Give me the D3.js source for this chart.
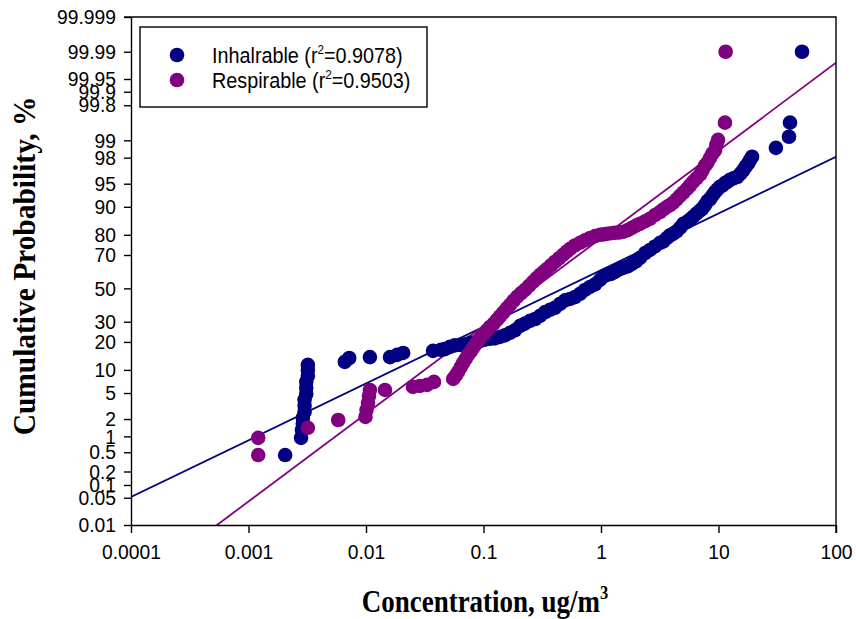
<!DOCTYPE html>
<html>
<head>
<meta charset="utf-8">
<script src="https://cdn.jsdelivr.net/npm/d3@7"></script>
<style>
  html, body { margin: 0; padding: 0; background: #fff; }
  svg { display: block; }
</style>
</head>
<body>
<svg id="chart" width="856" height="619"></svg>
<script>
// ---- data -------------------------------------------------------------
const seriesNames = ["Inhalrable", "Respirable"];
const seriesColors = ["#000080", "#800080"];
const r2Values = ["0.9078", "0.9503"];

// Inhalable: concentration (ug/m3) and cumulative probability (%)
const inhalConc = [
  0.00205, 0.0028, 0.00285, 0.0029, 0.0029, 0.0030, 0.0030, 0.0030, 0.0031, 0.0031,
  0.0031, 0.0032, 0.0032, 0.0032, 0.0066, 0.0072, 0.0108, 0.016, 0.0184, 0.0207,
  0.0372, 0.0435, 0.047, 0.0519, 0.057, 0.0631, 0.070, 0.0768, 0.085, 0.0933,
  0.103, 0.1135, 0.125, 0.138, 0.152, 0.168, 0.185, 0.205, 0.225, 0.249,
  0.275, 0.303, 0.335, 0.368, 0.405, 0.448, 0.495, 0.545, 0.60, 0.663,
  0.73, 0.806, 0.89, 0.98, 1.05, 1.125, 1.22, 1.316, 1.43, 1.54,
  1.69, 1.835, 1.99, 2.147, 2.37, 2.61, 2.88, 3.18, 3.40, 3.65,
  3.87, 4.10, 4.40, 4.70, 5.03, 5.39, 5.72, 6.07, 6.5, 6.96,
  7.3, 7.67, 8.05, 8.47, 8.9, 9.34, 9.8, 10.3, 10.8, 11.35,
  11.9, 12.5, 13.4, 14.4, 15.3, 16.2, 17.0, 17.8, 18.5, 19.3,
  30.8, 39.8, 40.6, 51.4];
const inhalProb = [
  0.44, 0.94, 1.30, 1.66, 2.09, 2.61, 3.24, 4.0, 4.86, 5.89,
  7.1, 8.45, 10.0, 11.45, 12.4, 13.7, 14.0, 14.0, 14.8, 15.5,
  16.3, 16.7, 17.0, 17.9, 18.5, 18.7, 19.0, 19.6, 19.8, 20.4,
  21.0, 21.4, 21.6, 22.3, 23.0, 24.2, 25.5, 27.8, 29.0, 30.5,
  31.5, 33.3, 35.5, 36.8, 38.0, 40.4, 42.5, 43.4, 44.5, 46.6,
  49.0, 50.9, 52.5, 55.3, 57.5, 58.4, 59.0, 60.2, 61.8, 62.6,
  63.5, 65.0, 66.5, 68.4, 71.0, 72.7, 74.5, 76.3, 77.0, 78.6,
  79.8, 80.4, 81.5, 82.9, 84.5, 85.2, 86.0, 86.95, 88.0, 88.9,
  89.5, 90.5, 91.5, 92.0, 92.8, 93.5, 94.0, 94.5, 94.7, 95.1,
  95.3, 95.6, 95.8, 96.0, 96.4, 96.8, 97.2, 97.5, 97.8, 98.07,
  98.64, 99.14, 99.54, 99.99];

// Respirable
const respConc = [
  0.00121, 0.00121, 0.0032, 0.0058, 0.0099, 0.0101, 0.0104, 0.0106, 0.0108, 0.0145,
  0.0251, 0.0288, 0.0331, 0.0379, 0.0552, 0.058, 0.0607, 0.064, 0.0670, 0.0705,
  0.0738, 0.0775, 0.0814, 0.0855, 0.0898, 0.095, 0.101, 0.107, 0.1135, 0.122,
  0.130, 0.138, 0.1465, 0.157, 0.168, 0.18, 0.193, 0.209, 0.2255, 0.244,
  0.264, 0.283, 0.303, 0.325, 0.347, 0.376, 0.406, 0.44, 0.475, 0.51,
  0.545, 0.60, 0.663, 0.73, 0.806, 0.89, 0.98, 1.05, 1.125, 1.22,
  1.316, 1.43, 1.54, 1.69, 1.835, 1.99, 2.147, 2.37, 2.61, 2.88,
  3.18, 3.40, 3.65, 3.87, 4.10, 4.40, 4.70, 5.03, 5.39, 5.72,
  6.07, 6.5, 6.96, 7.3, 7.67, 8.05, 8.47, 8.9, 9.34, 9.6,
  9.91, 11.35, 11.5];
const respProb = [
  0.44, 0.94, 1.42, 1.93, 2.17, 2.81, 3.59, 4.55, 5.52, 5.52,
  6.07, 6.26, 6.46, 7.08, 7.74, 8.5, 9.46, 10.8, 12.1, 13.4,
  14.8, 16.0, 17.5, 19.0, 20.4, 22.0, 23.7, 25.5, 27.2, 29.0,
  31.0, 33.0, 35.0, 37.5, 39.8, 42.3, 44.7, 47.0, 49.1, 51.6,
  54.1, 56.3, 58.4, 60.2, 62.0, 64.2, 66.2, 68.2, 70.1, 71.8,
  73.3, 75.0, 76.3, 77.5, 78.6, 79.4, 80.0, 80.2, 80.4, 80.7,
  80.9, 81.0, 81.3, 82.0, 82.9, 83.8, 84.5, 85.4, 86.3, 87.5,
  88.5, 89.3, 90.0, 90.5, 91.05, 91.9, 92.7, 93.4, 94.1, 94.7,
  95.3, 95.8, 96.3, 96.8, 97.3, 97.6, 97.99, 98.3, 98.5, 98.8,
  99.02, 99.54, 99.99];

// Lognormal fits: probit(p) = intercept + slope * log10(concentration)
const fitIntercept = [0.286, 0.788];
const fitSlope = [0.891, 1.379];

// Axis ticks
const xTicks = [0.0001, 0.001, 0.01, 0.1, 1, 10, 100];
const xTickLabels = ["0.0001", "0.001", "0.01", "0.1", "1", "10", "100"];
const yTicks = [0.01, 0.05, 0.1, 0.2, 0.5, 1, 2, 5, 10, 20, 30, 50, 70, 80, 90, 95, 98, 99, 99.8, 99.9, 99.95, 99.99, 99.999];
const yTickLabels = ["0.01", "0.05", "0.1", "0.2", "0.5", "1", "2", "5", "10", "20", "30", "50", "70", "80", "90", "95", "98", "99", "99.8", "99.9", "99.95", "99.99", "99.999"];

// ---- normal quantile (probit) ------------------------------------------
function probit(p) {
  const a = [-3.969683028665376e+01, 2.209460984245205e+02, -2.759285104469687e+02, 1.383577518672690e+02, -3.066479806614716e+01, 2.506628277459239e+00];
  const b = [-5.447609879822406e+01, 1.615858368580409e+02, -1.556989798598866e+02, 6.680131188771972e+01, -1.328068155833981e+01];
  const c = [-7.784894002430293e-03, -3.223964580411365e-01, -2.400758277161838e+00, -2.549732539343734e+00, 4.374664141464968e+00, 2.938163982698783e+00];
  const d = [7.784695709041462e-03, 3.224671290700398e-01, 2.445134137142996e+00, 3.754408661907416e+00];
  const pl = 0.02425, ph = 1 - pl;
  let q, r;
  if (p < pl) {
    q = Math.sqrt(-2 * Math.log(p));
    return (((((c[0]*q+c[1])*q+c[2])*q+c[3])*q+c[4])*q+c[5]) / ((((d[0]*q+d[1])*q+d[2])*q+d[3])*q+1);
  } else if (p <= ph) {
    q = p - 0.5; r = q * q;
    return (((((a[0]*r+a[1])*r+a[2])*r+a[3])*r+a[4])*r+a[5])*q / (((((b[0]*r+b[1])*r+b[2])*r+b[3])*r+b[4])*r+1);
  } else {
    q = Math.sqrt(-2 * Math.log(1 - p));
    return -(((((c[0]*q+c[1])*q+c[2])*q+c[3])*q+c[4])*q+c[5]) / ((((d[0]*q+d[1])*q+d[2])*q+d[3])*q+1);
  }
}

// ---- layout -----------------------------------------------------------
const plot = { left: 131, right: 836, top: 17, bottom: 525 };
const svg = d3.select("#chart");

const x = d3.scaleLog().domain([0.0001, 100]).range([plot.left, plot.right]);
// linear scale in probit units; percentages are mapped through probit()
const z = d3.scaleLinear().domain([probit(0.0001), probit(0.99999)]).range([plot.bottom, plot.top]);
const y = p => z(probit(p / 100));

const sansFont = "'Liberation Sans', Arial, sans-serif";
const serifFont = "'Liberation Serif', 'Times New Roman', serif";
const tickSize = 21;
const squeeze = 0.92;
const markerR = 7.3;

// clip region for fitted lines
svg.append("clipPath").attr("id", "plotClip")
  .append("rect")
  .attr("x", plot.left).attr("y", plot.top)
  .attr("width", plot.right - plot.left).attr("height", plot.bottom - plot.top);

// ---- fitted lines ------------------------------------------------------
const fitLine = d3.line().x(d => x(d[0])).y(d => z(d[1]));
seriesNames.forEach((name, i) => {
  const ends = [0.0001, 100].map(c => [c, fitIntercept[i] + fitSlope[i] * Math.log10(c)]);
  svg.append("path")
    .attr("clip-path", "url(#plotClip)")
    .attr("d", fitLine(ends))
    .attr("fill", "none")
    .attr("stroke", seriesColors[i])
    .attr("stroke-width", 1.8);
});

// ---- points ------------------------------------------------------------
const seriesData = [
  inhalConc.map((c, i) => [c, inhalProb[i]]),
  respConc.map((c, i) => [c, respProb[i]])
];
seriesData.forEach((pts, i) => {
  svg.append("g")
    .selectAll("circle")
    .data(pts)
    .join("circle")
    .attr("cx", d => x(d[0]))
    .attr("cy", d => y(d[1]))
    .attr("r", markerR)
    .attr("fill", seriesColors[i]);
});

// ---- axes --------------------------------------------------------------
const xAxis = d3.axisBottom(x)
  .tickValues(xTicks)
  .tickFormat((d, i) => xTickLabels[i])
  .tickSize(8).tickSizeOuter(0).tickPadding(11);
const gx = svg.append("g").attr("transform", `translate(0,${plot.bottom})`).call(xAxis);

const yAxis = d3.axisLeft(z)
  .tickValues(yTicks.map(p => probit(p / 100)))
  .tickFormat((d, i) => yTickLabels[i])
  .tickSize(7).tickSizeOuter(0).tickPadding(8);
const gy = svg.append("g").attr("transform", `translate(${plot.left},0)`).call(yAxis);

[gx, gy].forEach(g => {
  g.select(".domain").attr("stroke", "#000").attr("stroke-width", 1.4);
  g.selectAll(".tick line").attr("stroke", "#000").attr("stroke-width", 1.4);
  g.selectAll(".tick text")
    .attr("fill", "#000")
    .style("font-family", sansFont)
    .style("font-size", tickSize + "px");
});
// narrow the tick labels horizontally around their anchor
gx.selectAll(".tick text").attr("transform", `scale(${squeeze},1)`);
gy.selectAll(".tick text").each(function () {
  const t = d3.select(this);
  const tx = +t.attr("x");
  t.attr("x", tx / squeeze).attr("transform", `scale(${squeeze},1)`);
});

// top and right frame
svg.append("path")
  .attr("d", `M${plot.left},${plot.top}H${plot.right}V${plot.bottom + 8}`)
  .attr("fill", "none").attr("stroke", "#000").attr("stroke-width", 1.4);
svg.append("path")
  .attr("d", `M${plot.left - 7},${plot.top}H${plot.left}`)
  .attr("stroke", "#000").attr("stroke-width", 1.4);

// ---- axis titles -------------------------------------------------------
const xTitle = svg.append("text")
  .attr("transform", `translate(485,612) scale(0.87,1)`)
  .attr("text-anchor", "middle")
  .style("font-family", serifFont)
  .style("font-weight", "bold")
  .style("font-size", "31px");
xTitle.append("tspan").text("Concentration, ug/m");
xTitle.append("tspan").attr("dy", -13).style("font-size", "19px").text("3");

svg.append("text")
  .attr("transform", `translate(35,266) rotate(-90) scale(0.92,1)`)
  .attr("text-anchor", "middle")
  .style("font-family", serifFont)
  .style("font-weight", "bold")
  .style("font-size", "32px")
  .text("Cumulative Probability, %");

// ---- legend ------------------------------------------------------------
const legend = svg.append("g");
legend.append("rect")
  .attr("x", 140).attr("y", 27).attr("width", 287).attr("height", 80)
  .attr("fill", "#fff").attr("stroke", "#000").attr("stroke-width", 1.4);
seriesNames.forEach((name, i) => {
  const cy = 55 + i * 25;
  legend.append("circle").attr("cx", 177).attr("cy", cy).attr("r", markerR).attr("fill", seriesColors[i]);
  const t = legend.append("text")
    .attr("transform", `translate(212,${cy + 8}) scale(0.9,1)`)
    .style("font-family", sansFont)
    .style("font-size", "22px")
    .attr("fill", "#000");
  t.append("tspan").text(`${name} (r`);
  t.append("tspan").attr("dy", -9).style("font-size", "13px").text("2");
  t.append("tspan").attr("dy", 9).text(`=${r2Values[i]})`);
});
</script>
</body>
</html>
